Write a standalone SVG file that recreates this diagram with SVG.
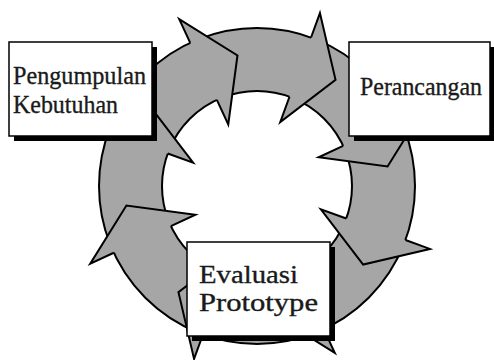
<svg xmlns="http://www.w3.org/2000/svg" xmlns:xlink="http://www.w3.org/1999/xlink" width="494" height="360" viewBox="0 0 494 360">
<style>
.ring{fill:#a6a6a6;fill-rule:evenodd;stroke:#000;stroke-width:2}
.hf{fill:#a6a6a6;stroke:none}
.hs{fill:none;stroke:#000;stroke-width:2;stroke-linejoin:miter}
.shadow{fill:#000}
.box{fill:#fff;stroke:#000;stroke-width:1.5}
.lbl{font-family:"Liberation Serif","Times New Roman",serif;font-size:26px;fill:#1a1a1a;stroke:#1a1a1a;stroke-width:0.35}
</style>
<defs>
<g id="head">
<path class="hf" d="M157,0 L184,0 L126.6,37.5 L68,0 L96,0 Z"/>
<path class="hs" d="M158,0 L184,0 L126.6,37.5 L68,0 L95,0"/>
</g>
</defs>
<rect width="494" height="360" fill="#fff"/>
<g id="connectors" transform="translate(257,186)">
<path class="ring" d="M158,0 A158,158 0 1,1 -158,0 A158,158 0 1,1 158,0 Z M95,0 A95,95 0 1,0 -95,0 A95,95 0 1,0 95,0 Z"/>
<use xlink:href="#head" transform="rotate(-115)"/>
<use xlink:href="#head" transform="rotate(-70)"/>
<use xlink:href="#head" transform="rotate(-25)"/>
<use xlink:href="#head" transform="rotate(20)"/>
<use xlink:href="#head" transform="rotate(65)"/>
<use xlink:href="#head" transform="rotate(110)"/>
<use xlink:href="#head" transform="rotate(155)"/>
<use xlink:href="#head" transform="rotate(200)"/>
</g>
<g id="pengumpulan">
<rect class="shadow" x="14" y="47" width="143" height="94"/>
<rect class="box" x="9" y="42" width="143" height="94"/>
<text class="lbl" x="13" y="84" textLength="133" lengthAdjust="spacingAndGlyphs">Pengumpulan</text>
<text class="lbl" x="13" y="113" textLength="105" lengthAdjust="spacingAndGlyphs">Kebutuhan</text>
</g>
<g id="perancangan">
<rect class="shadow" x="354" y="47" width="141" height="94"/>
<rect class="box" x="349" y="42" width="141" height="94"/>
<text class="lbl" x="360" y="95" textLength="122" lengthAdjust="spacingAndGlyphs">Perancangan</text>
</g>
<g id="evaluasi">
<rect class="shadow" x="192" y="247" width="143" height="94"/>
<rect class="box" x="187" y="242" width="143" height="94"/>
<text class="lbl" x="199" y="283" textLength="99" lengthAdjust="spacingAndGlyphs">Evaluasi</text>
<text class="lbl" x="199" y="311" textLength="119" lengthAdjust="spacingAndGlyphs">Prototype</text>
</g>
</svg>
